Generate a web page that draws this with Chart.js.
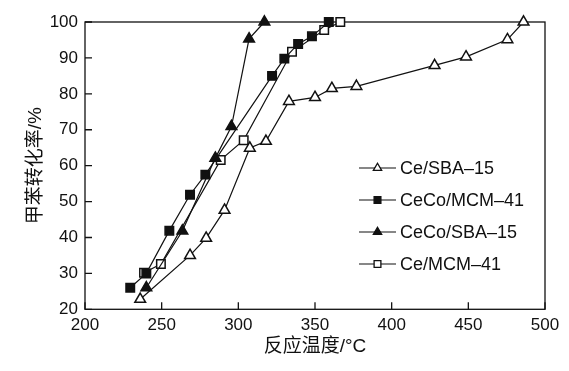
<!DOCTYPE html>
<html>
<head>
<meta charset="utf-8">
<script src="https://cdn.jsdelivr.net/npm/chart.js@4/dist/chart.umd.min.js"></script>
<style>
  body { margin: 0; background: #fff; }
  #wrap { width: 569px; height: 371px; }
</style>
</head>
<body>
<div id="wrap"><canvas id="c" width="569" height="371"></canvas></div>
<script>
// 甲苯转化率 vs 反应温度
var seriesNames = ['Ce/SBA\u201315', 'CeCo/MCM\u201341', 'CeCo/SBA\u201315', 'Ce/MCM\u201341'];

var ceSbaT = [236, 268.5, 279, 291, 307.5, 318, 333, 350, 361, 377, 428, 448.5, 475.5, 486];
var ceSbaY = [22.8, 35, 39.8, 47.6, 64.9, 66.8, 77.9, 79, 81.5, 82.1, 87.9, 90.3, 95.1, 100];

var cecoMcmT = [229.5, 240, 255, 268.5, 278.5, 322, 330, 339, 348, 359];
var cecoMcmY = [26, 30, 41.9, 51.9, 57.5, 85, 89.8, 93.9, 96, 100];

var cecoSbaT = [240, 263.5, 285, 295.5, 307, 317];
var cecoSbaY = [26, 41.8, 62.1, 70.9, 95.3, 100];

var ceMcmT = [238.5, 249.5, 288.5, 303.5, 335, 356, 366.5];
var ceMcmY = [30.2, 32.6, 61.6, 67.1, 91.7, 97.8, 100];

var xTicks = [200, 250, 300, 350, 400, 450, 500];
var yTicks = [20, 30, 40, 50, 60, 70, 80, 90, 100];

var FONT = '"Liberation Sans", Arial, "Noto Sans CJK SC", sans-serif';

function pts(xs, ys) {
  return xs.map(function (x, i) { return { x: x, y: ys[i] }; });
}

function ds(label, xs, ys, shape, filled, r) {
  return {
    label: label,
    data: pts(xs, ys),
    borderColor: '#111',
    borderWidth: 1.2,
    pointStyle: shape,
    pointRadius: r,
    pointBorderWidth: 1.5,
    pointBackgroundColor: filled ? '#111' : '#fff',
    pointBorderColor: '#111',
    showLine: true,
    tension: 0,
    clip: false
  };
}

// frame and inward ticks
var framePlugin = {
  id: 'frame',
  beforeDatasetsDraw: function (chart) {
    var ctx = chart.ctx, a = chart.chartArea;
    var xs = chart.scales.x, ys = chart.scales.y;
    ctx.save();
    ctx.strokeStyle = '#111';
    ctx.lineWidth = 1.3;
    ctx.strokeRect(a.left, a.top, a.right - a.left, a.bottom - a.top);
    ctx.beginPath();
    xTicks.forEach(function (v) {
      var p = xs.getPixelForValue(v);
      ctx.moveTo(p, a.bottom);
      ctx.lineTo(p, a.bottom - 7);
    });
    yTicks.forEach(function (v) {
      var p = ys.getPixelForValue(v);
      ctx.moveTo(a.left, p);
      ctx.lineTo(a.left + 7, p);
    });
    ctx.stroke();
    ctx.restore();
  }
};

function marker(ctx, style, x, y, r, fill) {
  ctx.beginPath();
  if (style === 'triangle') {
    ctx.moveTo(x, y - r);
    ctx.lineTo(x + r * 0.866, y + r * 0.5);
    ctx.lineTo(x - r * 0.866, y + r * 0.5);
    ctx.closePath();
  } else {
    var s = r * 0.707;
    ctx.rect(x - s, y - s, 2 * s, 2 * s);
  }
  ctx.fillStyle = fill;
  ctx.fill();
  ctx.stroke();
}

var legendPlugin = {
  id: 'insideLegend',
  afterDraw: function (chart) {
    var ctx = chart.ctx;
    ctx.save();
    ctx.font = '18px ' + FONT;
    ctx.textBaseline = 'middle';
    ctx.textAlign = 'left';
    chart.data.datasets.forEach(function (d, i) {
      var y = 168 + i * 32;
      ctx.strokeStyle = '#111';
      ctx.lineWidth = 1.2;
      ctx.beginPath();
      ctx.moveTo(359, y);
      ctx.lineTo(396, y);
      ctx.stroke();
      ctx.lineWidth = 1.3;
      marker(ctx, d.pointStyle, 377.5, y, 4.8, d.pointBackgroundColor);
      ctx.fillStyle = '#111';
      ctx.fillText(d.label, 400, y + 1);
    });
    ctx.restore();
  }
};

new Chart(document.getElementById('c'), {
  type: 'scatter',
  data: {
    datasets: [
      ds(seriesNames[0], ceSbaT, ceSbaY, 'triangle', false, 6.2),
      ds(seriesNames[1], cecoMcmT, cecoMcmY, 'rect', true, 6),
      ds(seriesNames[2], cecoSbaT, cecoSbaY, 'triangle', true, 6.2),
      ds(seriesNames[3], ceMcmT, ceMcmY, 'rect', false, 6)
    ]
  },
  options: {
    responsive: false,
    animation: false,
    layout: { padding: { top: 22, right: 24, left: 0, bottom: 0 } },
    plugins: { legend: { display: false }, tooltip: { enabled: false } },
    scales: {
      x: {
        type: 'linear',
        min: 200,
        max: 500,
        afterBuildTicks: function (s) { s.ticks = xTicks.map(function (v) { return { value: v }; }); },
        afterFit: function (s) { s.height = 61.7; },
        grid: { display: false, drawTicks: false },
        border: { display: false },
        ticks: { color: '#111', font: { family: FONT, size: 17 }, padding: 6, maxRotation: 0 },
        title: { display: true, text: '反应温度/°C', color: '#111', font: { family: FONT, size: 19 }, padding: { top: 0, bottom: 13 } }
      },
      y: {
        type: 'linear',
        min: 20,
        max: 100,
        afterBuildTicks: function (s) { s.ticks = yTicks.map(function (v) { return { value: v }; }); },
        afterFit: function (s) { s.width = 85; },
        grid: { display: false, drawTicks: false },
        border: { display: false },
        ticks: { color: '#111', font: { family: FONT, size: 17 }, padding: 7 },
        title: { display: true, text: '甲苯转化率/%', color: '#111', font: { family: FONT, size: 19 }, padding: { top: 24, bottom: 0 } }
      }
    }
  },
  plugins: [framePlugin, legendPlugin]
});
</script>
</body>
</html>
